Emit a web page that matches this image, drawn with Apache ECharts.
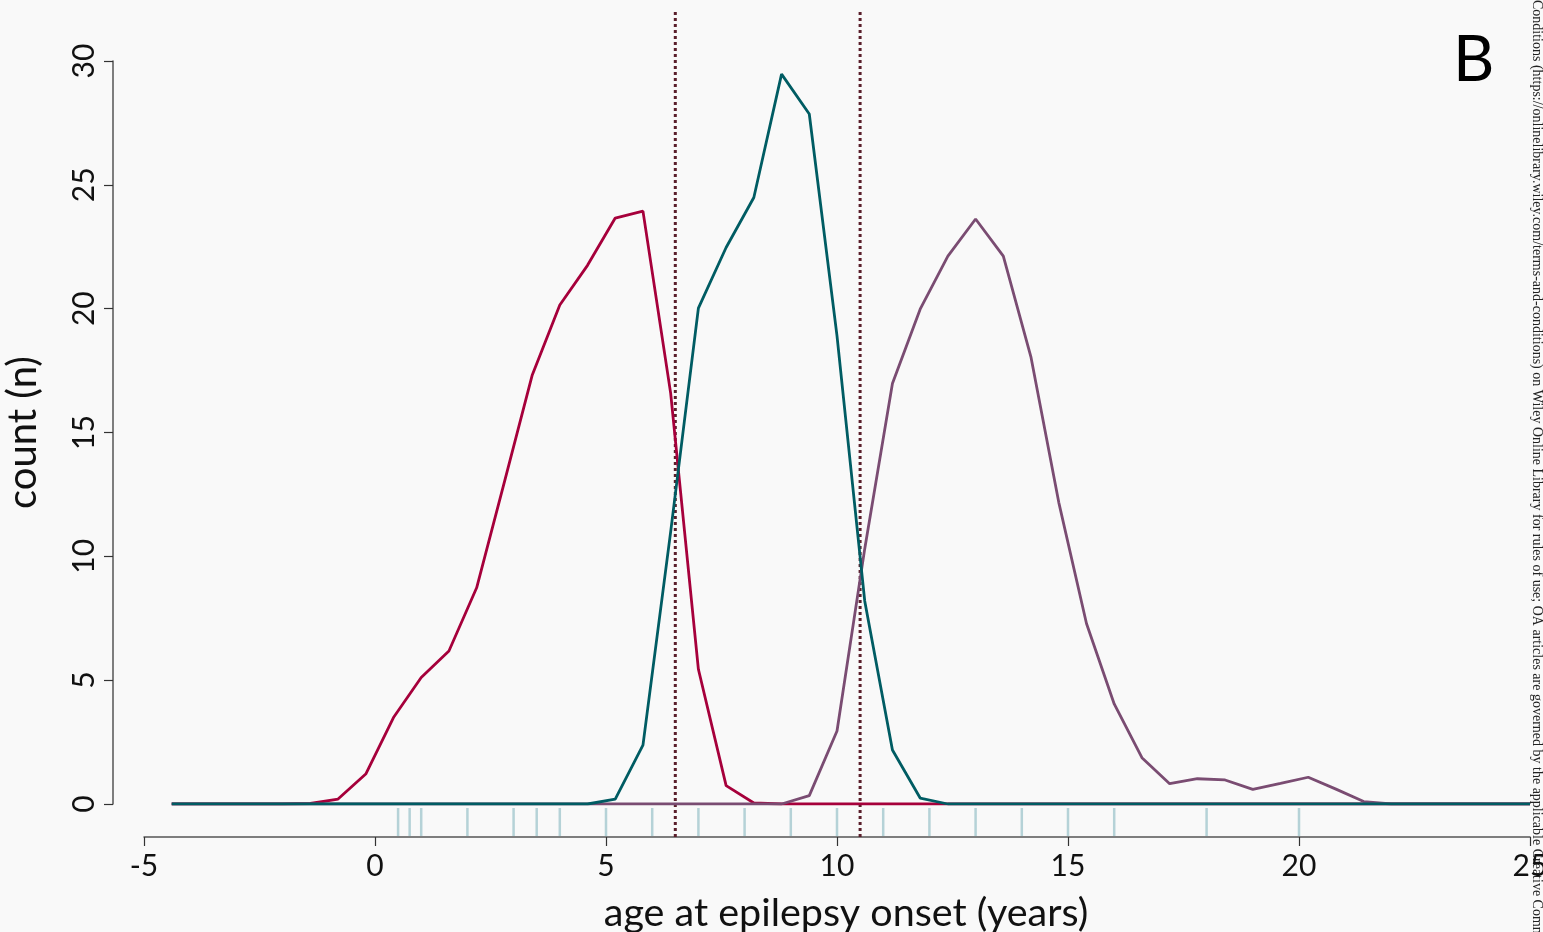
<!DOCTYPE html>
<html>
<head>
<meta charset="utf-8">
<script src="https://cdn.jsdelivr.net/npm/echarts@6/dist/echarts.min.js"></script>
<style>
html,body{margin:0;padding:0;background:#f9f9f9;}
#chart{width:1543px;height:932px;}
</style>
</head>
<body>
<div id="chart"></div>
<script>
// age grid (years) of the smoothed count curves
const ages = [-4.4,-3.8,-3.2,-2.6,-2.0,-1.4,-0.8,-0.2,0.4,1.0,1.6,2.2,2.8,3.4,4.0,4.6,5.2,5.8,6.4,7.0,
  7.6,8.2,8.8,9.4,10.0,10.6,11.2,11.8,12.4,13.0,13.6,14.2,14.8,15.4,16.0,16.6,17.2,17.8,18.4,19.0,
  19.6,20.2,20.8,21.4,22.0,22.6,23.2,23.8,24.4,25.0];
const redCounts = [0,0,0,0,0,0.02,0.2,1.21,3.49,5.11,6.18,8.73,13.0,17.3,20.15,21.75,23.66,23.94,16.58,5.44,
  0.74,0.04,0,0,0,0,0,0,0,0,0,0,0,0,0,0,0,0,0,0,
  0,0,0,0,0,0,0,0,0,0];
const tealCounts = [0,0,0,0,0,0,0,0,0,0,0,0,0,0,0,0,0.2,2.38,11.0,20.02,
  22.47,24.49,29.47,27.86,18.9,8.2,2.18,0.24,0,0,0,0,0,0,0,0,0,0,0,0,
  0,0,0,0,0,0,0,0,0,0];
const purpleCounts = [0,0,0,0,0,0,0,0,0,0,0,0,0,0,0,0,0,0,0,0,
  0,0,0,0.34,2.95,10.3,16.98,19.98,22.12,23.62,22.12,18.03,12.18,7.29,4.04,1.87,0.82,1.02,0.97,0.59,
  0.83,1.08,0.6,0.1,0,0,0,0,0,0];
// observed onset ages (rug)
const rugAges = [0.5,0.75,1,2,3,3.5,4,5,6,7,8,9,10,11,12,13,14,15,16,18,20];
// cut-off lines
const cutoffs = [6.5,10.5];
const xTicks = [-5,0,5,10,15,20,25];
const yTicks = [0,5,10,15,20,25,30];

const FONT = 'Lato';
const pair = (ys) => ages.map((a,i)=>[a, ys[i]]);

const chart = echarts.init(document.getElementById('chart'), null, {renderer:'canvas'});
const gridBase = {left:144, right:13, outerBoundsMode:'none', containLabel:false};
const option = {
  backgroundColor:'#f9f9f9',
  animation:false,
  grid:[
    Object.assign({top:61, bottom:128}, gridBase),
    Object.assign({top:808, height:28}, gridBase),
    Object.assign({top:12, bottom:95}, gridBase)
  ],
  xAxis:[
    {gridIndex:0, type:'value', min:xTicks[0], max:xTicks[xTicks.length-1], interval:5, offset:33,
     axisLine:{show:true, onZero:false, lineStyle:{color:'#555', width:1.5}},
     axisTick:{show:true, length:9, lineStyle:{color:'#333', width:1.2}},
     axisLabel:{fontFamily:FONT, fontSize:30, color:'#111', margin:14},
     splitLine:{show:false},
     name:'age at epilepsy onset (years)', nameLocation:'middle', nameGap:56,
     nameTextStyle:{fontFamily:FONT, fontSize:39.5, color:'#111', padding:[0,0,0,18]}},
    {gridIndex:1, type:'value', min:-5, max:25, show:false},
    {gridIndex:2, type:'value', min:-5, max:25, show:false}
  ],
  yAxis:[
    {gridIndex:0, type:'value', min:yTicks[0], max:yTicks[yTicks.length-1], interval:5, offset:31,
     axisLine:{show:true, onZero:false, lineStyle:{color:'#555', width:1.5}},
     axisTick:{show:true, length:9, lineStyle:{color:'#333', width:1.2}},
     axisLabel:{fontFamily:FONT, fontSize:30, color:'#111', rotate:90, margin:14},
     splitLine:{show:false},
     name:'count (n)', nameLocation:'middle', nameGap:70, nameRotate:90,
     nameTextStyle:{fontFamily:FONT, fontSize:40, color:'#111'}},
    {gridIndex:1, type:'value', min:0, max:1, show:false},
    {gridIndex:2, type:'value', min:0, max:1, show:false}
  ],
  series:[
    ...cutoffs.map((c,i)=>({
      name:'cutoff '+(i+1), type:'line', xAxisIndex:2, yAxisIndex:2, showSymbol:false, z:1,
      data:[[c,0],[c,1]],
      lineStyle:{color:'#5a1f2b', width:3, type:[3,3]}
    })),
    {name:'rug', type:'scatter', xAxisIndex:1, yAxisIndex:1, symbol:'rect', symbolSize:[2.5,28],
     itemStyle:{color:'#a4c8ce'}, data:rugAges.map(a=>[a,0.5]), z:2},
    {name:'group 1', type:'line', showSymbol:false, data:pair(redCounts), z:3,
     lineStyle:{color:'#a6003b', width:2.8}, itemStyle:{color:'#a6003b'}},
    {name:'group 3', type:'line', showSymbol:false, data:pair(purpleCounts), z:4,
     lineStyle:{color:'#7a4c72', width:2.8}, itemStyle:{color:'#7a4c72'}},
    {name:'group 2', type:'line', showSymbol:false, data:pair(tealCounts), z:5,
     lineStyle:{color:'#005c63', width:2.8}, itemStyle:{color:'#005c63'}}
  ],
  graphic:[
    {type:'text', left:1453, top:28, style:{text:'B', font:'64px Lato', fill:'#000'}},
    {type:'text', x:1537, y:0, rotation:-Math.PI/2,
     style:{text:'Conditions (https://onlinelibrary.wiley.com/terms-and-conditions) on Wiley Online Library for rules of use; OA articles are governed by the applicable Creative Commons License',
       font:'14px "Liberation Serif"', fill:'#222', textAlign:'left', textVerticalAlign:'middle'}}
  ]
};
chart.setOption(option);
</script>
</body>
</html>
